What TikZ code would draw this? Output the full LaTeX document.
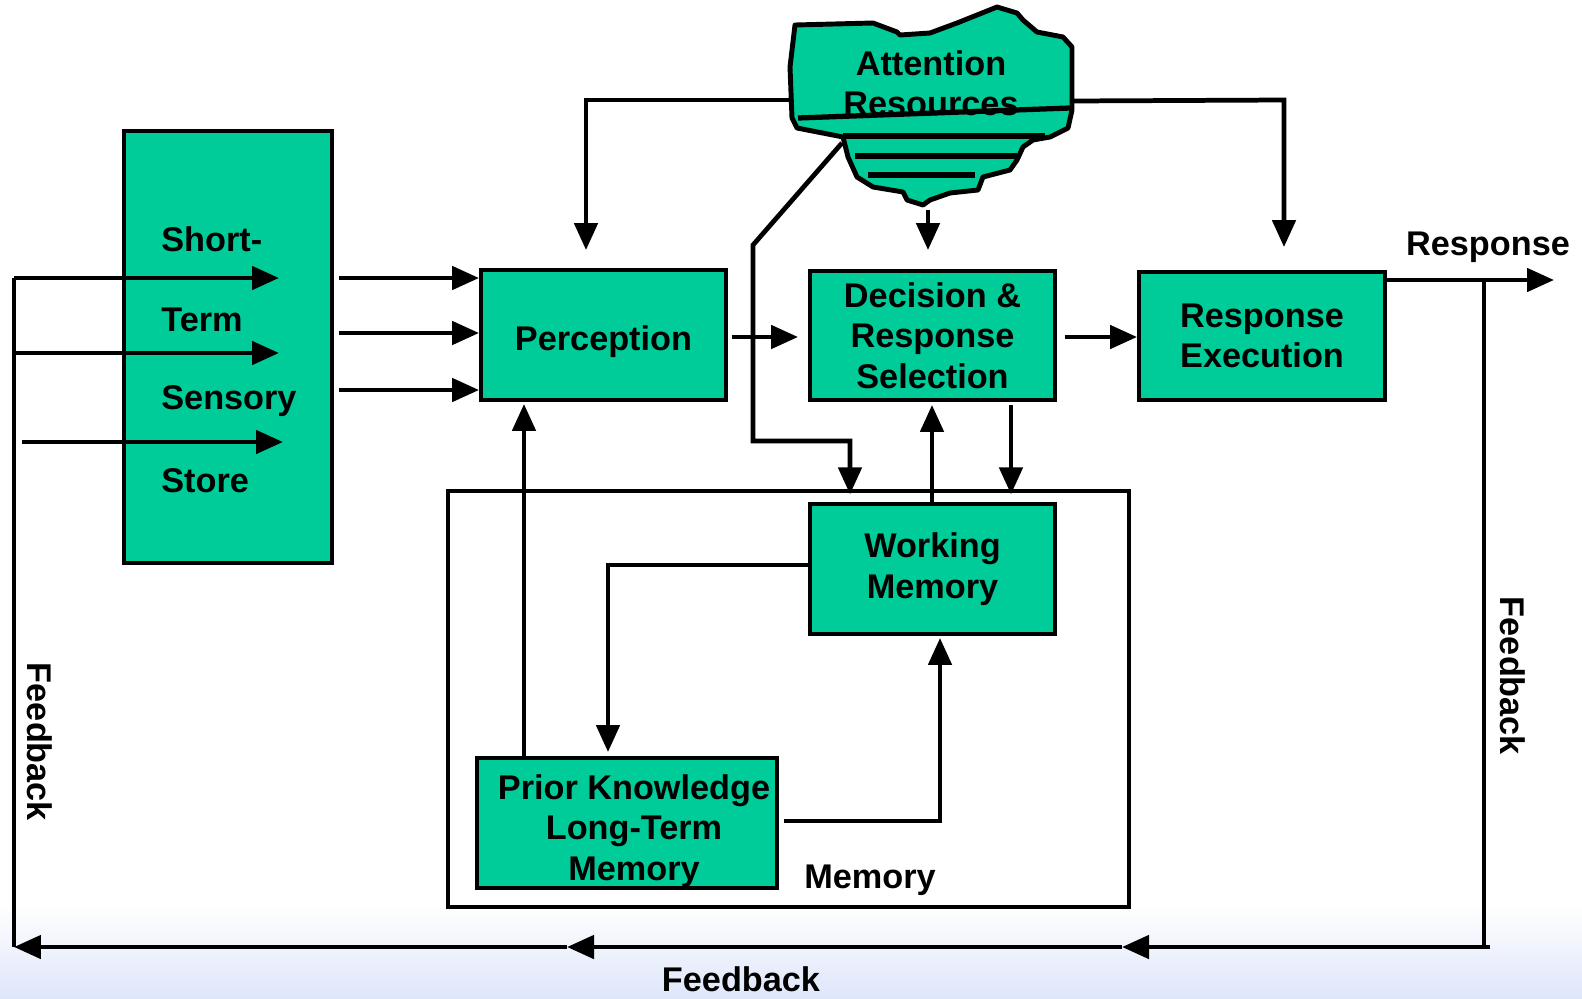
\documentclass[tikz,border=0pt]{standalone}
\usepackage{fontspec}
\setmainfont{Liberation Sans}
\usetikzlibrary{arrows.meta,positioning}
\definecolor{boxgreen}{RGB}{0,204,153}
\definecolor{paleblue}{RGB}{222,230,250}

\begin{document}
\begin{tikzpicture}[x=0.02cm, y=-0.02cm,
  block/.style={draw, line width=2.2pt, fill=boxgreen, align=center, inner sep=0pt, font=\bfseries\fontsize{19.5}{23}\selectfont},
  lbl/.style={font=\bfseries\fontsize{19.5}{23}\selectfont, inner sep=0pt},
  arr/.style={line width=2.7pt, -{Triangle[length=0.54cm, width=0.46cm]}},
  wire/.style={line width=2.7pt}]
\useasboundingbox (0,0) rectangle (1582,998);
\shade[top color=white, bottom color=paleblue] (0,905) rectangle (1582,998);

% boxes
\node[block, minimum width=4.16cm, minimum height=8.64cm] (stss) at (228,347) {};
\node[lbl, anchor=west] (st1) at (161,239) {Short-};
\node[lbl, anchor=west] (st2) at (161,320) {Term};
\node[lbl, anchor=west] (st3) at (161,401) {Sensory};
\node[lbl, anchor=west] (st4) at (161,481) {Store};
\node[draw, line width=1.9pt, minimum width=13.62cm, minimum height=8.32cm] (mem) at (788.5,699) {};
\node[lbl] (memlbl) at (870,880) {Memory};
\node[block, minimum width=4.9cm, minimum height=2.6cm] (perc) at (603.5,335) {\raisebox{-0.14cm}[\height][\depth]{Perception}};
\node[block, minimum width=4.9cm, minimum height=2.58cm] (dec) at (932.5,335.5) {Decision \&\\Response\\Selection};
\node[block, minimum width=4.92cm, minimum height=2.56cm] (resp) at (1262,336) {Response\\Execution};
\node[block, minimum width=4.9cm, minimum height=2.6cm] (wm) at (932.5,569) {Working\\Memory};
\node[block, minimum width=6cm, minimum height=2.6cm] (pk) at (627,823) {};
\node[lbl, align=center] (pktxt) at ([shift={(7,8)}]pk.center) {Prior Knowledge\\Long-Term\\Memory};

% attention cloud
\filldraw[fill=boxgreen, line width=2.8pt, line join=round]
  (795,25) -- (873,23) -- (897,32) -- (900,35) -- (930,33) -- (957,23) -- (977,15)
  -- (997,7) -- (1017,13) -- (1023,20) -- (1037,32) -- (1063,37) -- (1072,47)
  -- (1072,110) -- (1068,128) -- (1050,137) -- (1033,140) -- (1023,147) -- (1017,160)
  -- (1010,170) -- (983,177) -- (978,190) -- (950,193) -- (930,200) -- (923,205)
  -- (907,200) -- (903,192) -- (873,187) -- (857,177) -- (848,157) -- (843,137)
  -- (797,128) -- (792,118) -- (790,67) -- cycle;
\node[lbl, align=center] (att) at (931,83) {Attention\\Resources};
\draw[line width=3pt] (798,118) -- (1070,108);
\draw[line width=3pt] (843,136) -- (1045,136);
\draw[line width=3pt] (855,156) -- (1017,156);
\draw[line width=3pt] (868,175) -- (975,175);
\coordinate (attL) at (790,100);
\coordinate (attR) at (1072,101);
\coordinate (attB) at (928,210);
\coordinate (attD) at (842,143);

% inputs and feedback loop
\coordinate (in1) at (14,278);
\coordinate (in2) at (14,353);
\coordinate (in3) at (22,442);
\coordinate (fbL) at (14,947);
\coordinate (fbA) at (567,947);
\coordinate (fbB) at (1122,947);
\coordinate (fbR) at (1490,947);
\coordinate (fbT) at (1484,280);
\coordinate (out) at (1554,280);
\draw[arr] (in1) -- (279,278);
\draw[arr] (in2) -- (279,353);
\draw[arr] (in3) -- (283,442);
\draw[wire] (in1) -- (fbL);
\draw[wire] (fbT) |- (fbR);
\draw[arr] (fbR) -- (fbB);
\draw[arr] (fbB) -- (fbA);
\draw[arr] (fbA) -- (fbL);
\node[lbl, rotate=-90] (fb1) at (40,742) {Feedback};
\node[lbl, rotate=-90] (fb2) at (1513,676) {Feedback};
\node[lbl] (fb3) at (741,979) {Feedback};

% forward flow
\draw[arr, shorten <=0.1cm] (stss.east |- 0,278) -- (perc.west |- 0,278);
\draw[arr, shorten <=0.1cm] (stss.east |- 0,333) -- (perc.west |- 0,333);
\draw[arr, shorten <=0.1cm] (stss.east |- 0,390) -- (perc.west |- 0,390);
\draw[arr, shorten <=0.08cm, shorten >=0.2cm] (perc.east |- 0,337) -- (dec.west |- 0,337);
\draw[arr, shorten <=0.16cm] (dec.east |- 0,337) -- (resp.west |- 0,337);
\draw[arr] (resp.east |- 0,280) -- (out);
\node[lbl] (outlbl) at (1488,247) {Response};

% attention
\draw[arr, shorten >=0.36cm] (attL) -| (perc.north -| 586,0);
\draw[arr, shorten >=0.46cm] (attR) -- (1284,100) -- (resp.north -| 1284,0);
\draw[arr, shorten >=0.38cm] (attB) -- (dec.north -| attB);
\draw[arr, shorten >=-0.1cm] (attD) -- (753,245) -- (753,441) -| (mem.north -| 850,0);

% memory
\draw[arr, shorten >=0.06cm] (wm.north -| 932,0) -- (dec.south -| 932,0);
\draw[arr, shorten <=0.06cm, shorten >=-0.1cm] (dec.south -| 1011,0) -- (mem.north -| 1011,0);
\draw[arr, shorten >=0.08cm] (wm.west |- 0,565) -| (pk.north -| 608,0);
\draw[arr, shorten <=0.1cm, shorten >=0.04cm] (pk.east |- 0,821) -| (wm.south -| 940,0);
\draw[arr, shorten >=0.04cm] (pk.north -| 524,0) -- (perc.south -| 524,0);
\end{tikzpicture}
\end{document}
